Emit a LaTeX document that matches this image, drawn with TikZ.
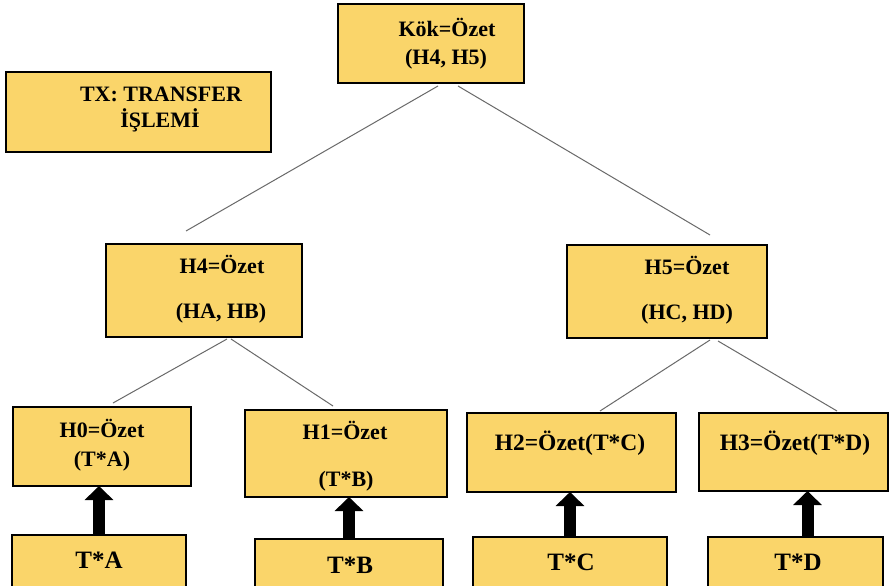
\documentclass[tikz,border=0pt]{standalone}
\usepackage{fontspec}
\setmainfont{Liberation Serif}
\usetikzlibrary{arrows.meta,calc}
\definecolor{boxfill}{RGB}{250,213,106}
\definecolor{linkgray}{RGB}{105,105,105}
\begin{document}
\begin{tikzpicture}[x=1pt,y=-1pt,
  box/.style={draw=black,line width=1.6pt,fill=boxfill,inner sep=0pt,outer sep=0pt},
  txt/.style={anchor=base,inner sep=0pt,font=\fontsize{22}{26}\selectfont\bfseries},
  txtm/.style={anchor=base,inner sep=0pt,font=\fontsize{23.5}{28}\selectfont\bfseries},
  txtl/.style={anchor=base,inner sep=0pt,font=\fontsize{25}{30}\selectfont\bfseries},
  link/.style={draw=linkgray,line width=1pt},
  blockarrow/.style={draw=black,line width=12pt,-{Triangle[length=14pt,width=28pt]}}]
\useasboundingbox (0,0) rectangle (889,586);
\fill[white] (0,0) rectangle (889,586);

% boxes
\node[box,minimum width=186,minimum height=79] (root) at (431,43.5) {};
\node[box,minimum width=265,minimum height=80] (legend) at (138.5,112) {};
\node[box,minimum width=196,minimum height=93] (h4) at (204,290.5) {};
\node[box,minimum width=200,minimum height=93] (h5) at (667,291.5) {};
\node[box,minimum width=178,minimum height=79] (h0) at (102,446.5) {};
\node[box,minimum width=202,minimum height=87] (h1) at (346,453.5) {};
\node[box,minimum width=209,minimum height=79] (h2) at (571.5,452.5) {};
\node[box,minimum width=189,minimum height=78] (h3) at (793.5,452) {};
\node[box,minimum width=174,minimum height=60] (ta) at (99,565) {};
\node[box,minimum width=188,minimum height=56] (tb) at (349,567) {};
\node[box,minimum width=194,minimum height=58] (tc) at (570,566) {};
\node[box,minimum width=175,minimum height=58] (td) at (795.5,566) {};

% texts
\node[txt] (rootA) at (447,37) {Kök=Özet};
\node[txt] (rootB) at (446,64) {(H4, H5)};
\node[txt] (legA) at (161,101) {TX: TRANSFER};
\node[txt] (legB) at (160,127) {İŞLEMİ};
\node[txt] (h4A) at (222,273) {H4=Özet};
\node[txt] (h4B) at (221,318) {(HA, HB)};
\node[txt] (h5A) at (687,274) {H5=Özet};
\node[txt] (h5B) at (687,319) {(HC, HD)};
\node[txt] (h0A) at (102,437) {H0=Özet};
\node[txt] (h0B) at (102,466) {(T*A)};
\node[txt] (h1A) at (345,439) {H1=Özet};
\node[txt] (h1B) at (346,486) {(T*B)};
\node[txtm] (h2A) at (570,450) {H2=Özet(T*C)};
\node[txtm] (h3A) at (795,450) {H3=Özet(T*D)};
\node[txtl] (taA) at (99,568) {T*A};
\node[txtl] (tbA) at (350,573) {T*B};
\node[txtl] (tcA) at (571,570) {T*C};
\node[txtl] (tdA) at (798,570) {T*D};

% tree connectors
\draw[link] ($(root.south)+(7,3)$) -- ($(h4.north)+(-18,-13)$);
\draw[link] ($(root.south)+(27,3)$) -- ($(h5.north)+(43,-10)$);
\draw[link] ($(h4.south)+(23,2)$) -- ($(h0.north)+(11,-4)$);
\draw[link] ($(h4.south)+(27,2)$) -- ($(h1.north)+(-13,-4)$);
\draw[link] ($(h5.south)+(43,2)$) -- ($(h2.north)+(28.5,-2)$);
\draw[link] ($(h5.south)+(51,3)$) -- ($(h3.north)+(43.5,-2)$);

% block arrows
\draw[blockarrow] (ta.north) -- (ta.north |- h0.south);
\draw[blockarrow] (tb.north) -- (tb.north |- h1.south);
\draw[blockarrow] (tc.north) -- (tc.north |- h2.south);
\coordinate (tdArrow) at ($(td.north)+(12,0)$);
\draw[blockarrow] (tdArrow) -- (tdArrow |- h3.south);
\end{tikzpicture}
\end{document}
